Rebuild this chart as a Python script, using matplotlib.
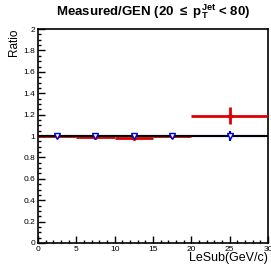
import numpy as np
import matplotlib.pyplot as plt
from matplotlib.ticker import MultipleLocator

plt.rcParams['font.family'] = ['Liberation Sans', 'DejaVu Sans']
plt.rcParams['mathtext.default'] = 'regular'

bin_lo = [0, 5, 10, 15, 20]
bin_hi = [5, 10, 15, 20, 30]
red_val = [1.0, 0.99, 0.985, 1.0, 1.19]
red_err = [0.005, 0.005, 0.01, 0.02, 0.08]
blue_val = [1.0, 1.0, 1.0, 1.0, 1.0]
blue_err = [0.005, 0.005, 0.005, 0.008, 0.045]

lo = np.array(bin_lo, float)
hi = np.array(bin_hi, float)
xc = (lo + hi) / 2
xe = (hi - lo) / 2

fig = plt.figure(figsize=(2.71, 2.67), dpi=100)
ax = fig.add_axes([0.140, 0.090, 0.849, 0.801])

ax.errorbar(xc, red_val, xerr=xe, yerr=red_err, fmt='o', ms=2.5, mfc='none',
            mec='#dd0000', color='#dd0000', lw=2, capsize=0, zorder=3)
ax.errorbar(xc, blue_val, xerr=xe, yerr=blue_err, fmt='none',
            color='#0000dd', lw=1.5, capsize=0, zorder=4)
ax.axhline(1.0, color='black', lw=1.5, zorder=5)
# open triangle markers drawn over the unity line
ax.plot(xc, blue_val, 'v', ms=4.5, mfc='white', mec='#0000dd', mew=1.0, zorder=7)

ax.set_xlim(0, 30)
ax.set_ylim(0, 2)
ax.xaxis.set_major_locator(MultipleLocator(5))
ax.xaxis.set_minor_locator(MultipleLocator(1))
ax.yaxis.set_minor_locator(MultipleLocator(0.05))
ax.set_yticks(np.arange(0, 2.01, 0.2))
ax.set_yticklabels(['0', '0.2', '0.4', '0.6', '0.8', '1', '1.2', '1.4', '1.6', '1.8', '2'])
ax.tick_params(which='both', direction='in', labelsize=6, width=1, pad=2)
ax.tick_params(which='major', length=5)
ax.tick_params(which='minor', length=2.5)
for s in ax.spines.values():
    s.set_linewidth(1.2)

fig.text(0.99, 0.035, 'LeSub(GeV/c)', fontsize=9, ha='right', va='center')
fig.text(0.05, 0.895, 'Ratio', fontsize=8.5, rotation=90, ha='center', va='top')
fig.text(0.565, 0.955, r'Measured/GEN (20 $\leq$ p$_{T}^{Jet}$ < 80)', fontsize=9.5,
         fontweight='bold', ha='center', va='center')

fig.savefig('out.png', dpi=100)
